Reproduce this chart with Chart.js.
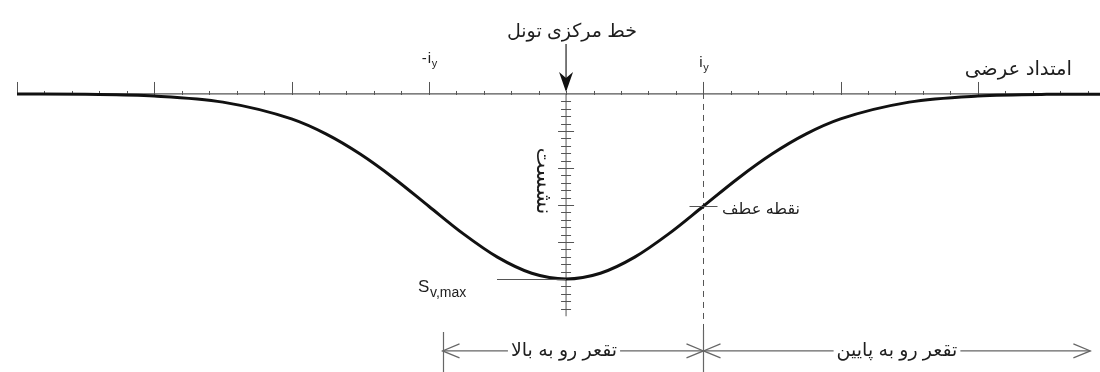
<!DOCTYPE html>
<html>
<head>
<title>Settlement trough</title>
<script src="https://cdn.jsdelivr.net/npm/chart.js"></script>
<style>
    body { margin: 0; background: #ffffff; }
    #wrap { width: 1100px; height: 372px; }
</style>
</head>
<body>
<div id="wrap"><canvas id="trough"></canvas></div>
<script>
    // offset from the tunnel centre line, in units of i
    var offsets = [-4, -3.5, -3, -2.5, -2, -1.75, -1.5, -1.25, -1, -0.75, -0.5, -0.25, 0,
                   0.25, 0.5, 0.75, 1, 1.25, 1.5, 1.75, 2, 2.5, 3, 3.5, 3.89];
    // surface settlement as a fraction of Sv,max (negative = down)
    var settlement = [0, -0.002, -0.011, -0.044, -0.135, -0.216, -0.325, -0.458, -0.607, -0.755, -0.882, -0.969, -1,
                      -0.969, -0.882, -0.755, -0.607, -0.458, -0.325, -0.216, -0.135, -0.044, -0.011, -0.002, -0.001];

    var xMajorTicks = [-4, -3, -2, -1, 1, 2, 3];
    var xMinorStep = 0.2;
    var yTickStep = 0.04;
    var yTickEnd = -1.18;
    var inflection = { x: 1, y: -0.607 };

    var FONT = "'Liberation Sans', 'DejaVu Sans', sans-serif";
    var INK = '#1e1e1e';

    // draw text scaled so it spans the given width, returns drawn width
    function fitText(ctx, text, x, y, width, align, maxSize) {
        ctx.font = maxSize + 'px ' + FONT;
        var w = ctx.measureText(text).width;
        var size = Math.min(maxSize, maxSize * width / w);
        ctx.font = size.toFixed(1) + 'px ' + FONT;
        ctx.textAlign = align;
        ctx.textBaseline = 'middle';
        ctx.fillStyle = INK;
        ctx.fillText(text, x, y);
        return ctx.measureText(text).width;
    }

    // i with subscript y, optional leading minus
    function drawIy(ctx, x, y, minus) {
        ctx.fillStyle = INK;
        ctx.textBaseline = 'alphabetic';
        ctx.textAlign = 'left';
        ctx.font = '15px ' + FONT;
        if (minus) {
            ctx.fillText('-', x - 9, y);
        }
        ctx.fillText('i', x - 3, y);
        ctx.font = '11px ' + FONT;
        ctx.fillText('y', x + 1, y + 4);
    }

    function openArrow(ctx, tx, ty, dir) {
        ctx.beginPath();
        ctx.moveTo(tx + dir * 17, ty - 7);
        ctx.lineTo(tx, ty);
        ctx.lineTo(tx + dir * 17, ty + 7);
        ctx.stroke();
    }

    // dimension segment with a label sitting in a break of the line
    function dimSegment(ctx, x1, x2, y, label, cx, width) {
        var w = fitText(ctx, label, cx, y, width, 'center', 19);
        ctx.beginPath();
        ctx.moveTo(x1, y); ctx.lineTo(cx - w / 2 - 3, y);
        ctx.moveTo(cx + w / 2 + 3, y); ctx.lineTo(x2, y);
        ctx.stroke();
    }

    var diagramPlugin = {
        id: 'diagram',
        beforeDatasetsDraw: function(chart) {
            var ctx = chart.ctx;
            var sx = chart.scales.x, sy = chart.scales.y;
            var y0 = sy.getPixelForValue(0);
            var xc = sx.getPixelForValue(0);
            ctx.save();
            ctx.strokeStyle = '#555555';
            ctx.lineWidth = 1.3;

            // transverse axis
            ctx.beginPath();
            ctx.moveTo(sx.getPixelForValue(-4), y0);
            ctx.lineTo(chart.width, y0);
            ctx.stroke();

            // minor ticks
            ctx.lineWidth = 1;
            for (var v = -4; v <= 3.9; v += xMinorStep) {
                var px = Math.round(sx.getPixelForValue(v)) + 0.5;
                ctx.beginPath();
                ctx.moveTo(px, y0 - 3);
                ctx.lineTo(px, y0 + 1);
                ctx.stroke();
            }
            // major ticks
            xMajorTicks.forEach(function(t) {
                var px = Math.round(sx.getPixelForValue(t)) + 0.5;
                ctx.beginPath();
                ctx.moveTo(px, y0 - 12);
                ctx.lineTo(px, y0);
                ctx.stroke();
            });

            // settlement axis on the centre line
            var yEnd = sy.getPixelForValue(yTickEnd);
            ctx.beginPath();
            ctx.moveTo(xc, y0);
            ctx.lineTo(xc, yEnd + 4);
            ctx.stroke();
            var n = Math.round(-yTickEnd / yTickStep);
            for (var k = 1; k <= n; k++) {
                var py = Math.round(sy.getPixelForValue(-k * yTickStep)) + 0.5;
                var half = (k % 5 === 0) ? 8 : 5;
                ctx.beginPath();
                ctx.moveTo(xc - half, py);
                ctx.lineTo(xc + half, py);
                ctx.stroke();
            }

            // dashed line through the point of inflection
            var xi = Math.round(sx.getPixelForValue(inflection.x)) + 0.5;
            ctx.setLineDash([6, 5]);
            ctx.beginPath();
            ctx.moveTo(xi, y0 - 12);
            ctx.lineTo(xi, 330);
            ctx.stroke();
            ctx.setLineDash([]);
            ctx.restore();
        },
        afterDatasetsDraw: function(chart) {
            var ctx = chart.ctx;
            var sx = chart.scales.x, sy = chart.scales.y;
            var y0 = sy.getPixelForValue(0);
            var xc = sx.getPixelForValue(0);
            var xi = Math.round(sx.getPixelForValue(inflection.x)) + 0.5;
            var yi = sy.getPixelForValue(inflection.y);
            var yMax = sy.getPixelForValue(-1);
            ctx.save();

            // centre line arrow
            ctx.strokeStyle = '#333333';
            ctx.fillStyle = '#111111';
            ctx.lineWidth = 1.3;
            ctx.beginPath();
            ctx.moveTo(xc, 44);
            ctx.lineTo(xc, y0 - 4);
            ctx.stroke();
            ctx.beginPath();
            ctx.moveTo(xc - 7, 72);
            ctx.lineTo(xc, 78);
            ctx.lineTo(xc + 7, 72);
            ctx.lineTo(xc, y0 - 2);
            ctx.closePath();
            ctx.fill();
            fitText(ctx, 'خط مرکزی تونل', 572, 32, 130, 'center', 20);

            // i_y marks
            drawIy(ctx, sx.getPixelForValue(1) - 1, 67, false);
            drawIy(ctx, sx.getPixelForValue(-1) + 2, 63, true);
            fitText(ctx, 'امتداد عرضی', 1072, 70, 107, 'right', 20);

            // inflection point
            ctx.strokeStyle = '#555555';
            ctx.lineWidth = 1;
            ctx.beginPath();
            ctx.moveTo(xi - 14, Math.round(yi) + 0.5);
            ctx.lineTo(xi + 14, Math.round(yi) + 0.5);
            ctx.stroke();
            fitText(ctx, 'نقطه عطف', 722, yi + 3, 78, 'left', 18);

            // Sv,max
            ctx.beginPath();
            ctx.moveTo(497, Math.round(yMax) + 0.5);
            ctx.lineTo(xc, Math.round(yMax) + 0.5);
            ctx.stroke();
            ctx.fillStyle = INK;
            ctx.textAlign = 'left';
            ctx.textBaseline = 'alphabetic';
            ctx.font = '17px ' + FONT;
            ctx.fillText('S', 418, 292);
            ctx.font = '14px ' + FONT;
            ctx.fillText('v,max', 430, 297);

            // settlement label, rotated
            ctx.save();
            ctx.translate(543, 181);
            ctx.rotate(Math.PI / 2);
            fitText(ctx, 'نشست', 0, 0, 68, 'center', 22);
            ctx.restore();

            // concavity dimension line
            var yd = sy.getPixelForValue(-1.389);
            var xl = sx.getPixelForValue(-0.9);
            var xr = sx.getPixelForValue(3.82);
            ctx.strokeStyle = '#666666';
            ctx.lineWidth = 1.2;
            ctx.beginPath();
            ctx.moveTo(Math.round(xl) + 0.5, 332);
            ctx.lineTo(Math.round(xl) + 0.5, 372);
            ctx.moveTo(xi, 330);
            ctx.lineTo(xi, 372);
            ctx.stroke();
            dimSegment(ctx, xl, xi, yd, 'تقعر رو به بالا', 564, 113);
            dimSegment(ctx, xi, xr, yd, 'تقعر رو به پایین', 897, 134);
            openArrow(ctx, xl, yd, 1);
            openArrow(ctx, xi, yd, -1);
            openArrow(ctx, xi, yd, 1);
            openArrow(ctx, xr, yd, -1);
            ctx.restore();
        }
    };

    var points = offsets.map(function(x, i) { return { x: x, y: settlement[i] }; });

    new Chart(document.getElementById('trough').getContext('2d'), {
        type: 'line',
        plugins: [diagramPlugin],
        data: {
            datasets: [{
                data: points,
                borderColor: '#111111',
                borderWidth: 3,
                pointRadius: 0,
                cubicInterpolationMode: 'monotone',
                fill: false
            }]
        },
        options: {
            responsive: true,
            maintainAspectRatio: false,
            animation: false,
            layout: { padding: { left: 17, right: 0, top: 0, bottom: 0 } },
            plugins: { legend: { display: false }, tooltip: { enabled: false } },
            scales: {
                x: { type: 'linear', min: -4, max: 3.89, display: false },
                y: { min: -1.503, max: 0.508, display: false }
            }
        }
    });
</script>
</body>
</html>
